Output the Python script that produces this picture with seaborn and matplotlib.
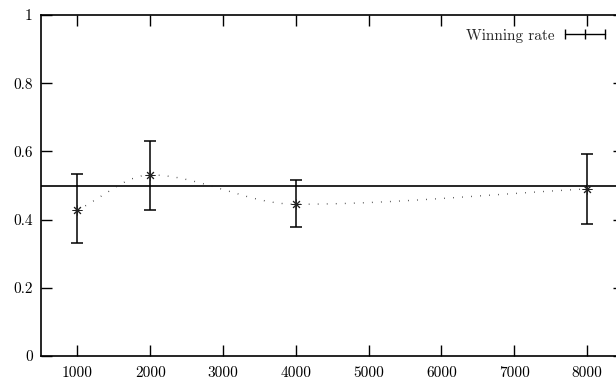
import numpy as np
import pandas as pd
import matplotlib
matplotlib.use("Agg")
import matplotlib.pyplot as plt
import seaborn as sns
from matplotlib.lines import Line2D

# data
games = [1000, 2000, 4000, 8000]
win_rate = [0.428, 0.531, 0.445, 0.490]
err_low = [0.330, 0.427, 0.379, 0.388]
err_high = [0.533, 0.630, 0.516, 0.592]
x_ticks = [1000, 2000, 3000, 4000, 5000, 6000, 7000, 8000]
y_ticks = [0, 0.2, 0.4, 0.6, 0.8, 1]
y_tick_labels = ["0", "0.2", "0.4", "0.6", "0.8", "1"]
baseline = 0.5

sns.set_style("ticks")
plt.rcParams['font.family'] = ['cmr10', 'DejaVu Serif']
plt.rcParams['mathtext.fontset'] = 'cm'
plt.rcParams['axes.formatter.use_mathtext'] = True


def monotone_spline(x, y, n=400):
    # Fritsch-Carlson monotone cubic, like gnuplot "smooth mcsplines"
    x = np.asarray(x, float)
    y = np.asarray(y, float)
    h = np.diff(x)
    d = np.diff(y) / h
    m = np.zeros(len(x))
    m[0], m[-1] = d[0], d[-1]
    for i in range(1, len(x) - 1):
        if d[i - 1] * d[i] <= 0:
            m[i] = 0
        else:
            w1 = 2 * h[i] + h[i - 1]
            w2 = h[i] + 2 * h[i - 1]
            m[i] = (w1 + w2) / (w1 / d[i - 1] + w2 / d[i])
    xs = np.linspace(x[0], x[-1], n)
    idx = np.clip(np.searchsorted(x, xs) - 1, 0, len(x) - 2)
    hh = h[idx]
    t = (xs - x[idx]) / hh
    h00 = 2 * t**3 - 3 * t**2 + 1
    h10 = t**3 - 2 * t**2 + t
    h01 = -2 * t**3 + 3 * t**2
    h11 = t**3 - t**2
    ys = h00 * y[idx] + h10 * hh * m[idx] + h01 * y[idx + 1] + h11 * hh * m[idx + 1]
    return xs, ys


sx, sy = monotone_spline(games, win_rate)
curve = pd.DataFrame({"games": sx, "rate": sy})

fig = plt.figure(figsize=(6.16, 3.80), dpi=100)
ax = fig.add_axes([41 / 616, 24 / 380, 582.5 / 616, 341 / 380])

ax.axhline(baseline, color="black", lw=1.2, zorder=1)
sns.lineplot(data=curve, x="games", y="rate", ax=ax, color="#222222",
             lw=1.0, linestyle=(0, (0.5, 6.0)), zorder=2)

yerr = [np.array(win_rate) - np.array(err_low), np.array(err_high) - np.array(win_rate)]
ax.errorbar(games, win_rate, yerr=yerr, fmt="none", ecolor="black",
            elinewidth=1.1, capsize=4.5, capthick=1.1, zorder=3)
ax.plot(games, win_rate, ls="none", marker=(8, 2, 0), ms=7, mew=0.7,
        color="#222222", zorder=4)

ax.set_xlim(500, 8500)
ax.set_ylim(0, 1)
ax.set_xticks(x_ticks)
ax.set_xticklabels([str(v) for v in x_ticks])
ax.set_yticks(y_ticks)
ax.set_yticklabels(y_tick_labels)
ax.tick_params(direction="in", length=8, width=1, top=True, right=True,
               labelsize=11, colors="black", pad=6)
ax.tick_params(axis="x", pad=7.5)
for s in ax.spines.values():
    s.set_linewidth(1.2)
    s.set_color("black")
ax.set_xlabel("")
ax.set_ylabel("")

handle = Line2D([], [], color="black", lw=1.0, marker="|", ms=7, mew=1.0)
ax.legend([handle], ["Winning rate"], loc="upper right", frameon=False,
          numpoints=3, markerfirst=False, handlelength=3.2, fontsize=11,
          handletextpad=0.4, bbox_to_anchor=(0.999, 1.0), borderaxespad=0.5)

fig.savefig("out.png", dpi=100)
